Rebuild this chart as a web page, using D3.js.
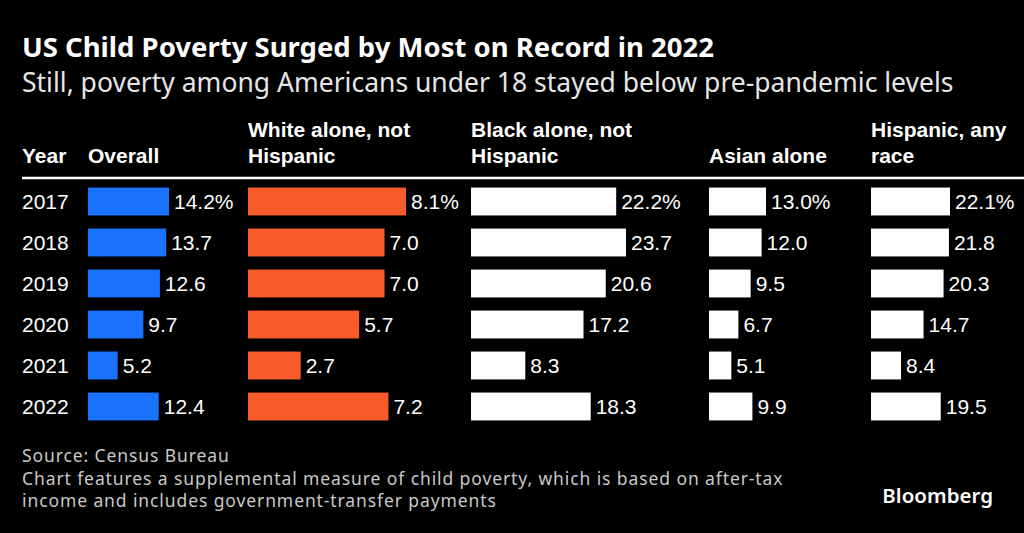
<!DOCTYPE html>
<html>
<head>
<meta charset="utf-8">
<script src="https://cdn.jsdelivr.net/npm/d3@7"></script>
<style>
  body { margin: 0; background: #000; }
  svg { display: block; }
</style>
</head>
<body>
<script>
// child poverty rates, supplemental measure, by race/ethnicity
var years = ["2017", "2018", "2019", "2020", "2021", "2022"]
var overall = [14.2, 13.7, 12.6, 9.7, 5.2, 12.4]
var white = [8.1, 7.0, 7.0, 5.7, 2.7, 7.2]
var black = [22.2, 23.7, 20.6, 17.2, 8.3, 18.3]
var asian = [13.0, 12.0, 9.5, 6.7, 5.1, 9.9]
var hispanic = [22.1, 21.8, 20.3, 14.7, 8.4, 19.5]
var headers = [["Overall"], ["White alone, not", "Hispanic"], ["Black alone, not", "Hispanic"], ["Asian alone"], ["Hispanic, any", "race"]]

var screen = {width: 1024, height: 533}
var sans = "'Noto Sans', 'Open Sans', sans-serif"
var grot = "'Liberation Sans', Arial, sans-serif"

var columns = [
    {values: overall, x: 88, maxW: 81, color: "#1a73ff"},
    {values: white, x: 248, maxW: 158, color: "#fa5b2a"},
    {values: black, x: 471, maxW: 155, color: "#ffffff"},
    {values: asian, x: 709, maxW: 57, color: "#ffffff"},
    {values: hispanic, x: 871, maxW: 79, color: "#ffffff"}
]

var svg = d3.select("body")
    .append("svg")
    .attr("width", screen.width)
    .attr("height", screen.height)

svg.append("rect")
    .attr("width", screen.width)
    .attr("height", screen.height)
    .attr("fill", "#000")

svg.append("text")
    .attr("x", 22).attr("y", 57)
    .attr("fill", "#fff")
    .style("font-family", sans)
    .style("font-weight", 700)
    .style("font-size", "27.5px")
    .text("US Child Poverty Surged by Most on Record in 2022")

svg.append("text")
    .attr("x", 22).attr("y", 92)
    .attr("fill", "#e6e6e6")
    .style("font-family", sans)
    .style("font-size", "26.5px")
    .text("Still, poverty among Americans under 18 stayed below pre-pandemic levels")

// header row
var hdr = svg.append("g")
    .style("font-family", grot)
    .style("font-weight", 700)
    .style("font-size", "21px")
    .attr("fill", "#fff")

hdr.append("text").attr("x", 22).attr("y", 163).text("Year")

columns.forEach(function(c, i) {
    var lines = headers[i]
    lines.forEach(function(l, j) {
        hdr.append("text")
            .attr("x", c.x)
            .attr("y", 163 - (lines.length - 1 - j) * 26)
            .text(l)
    })
})

svg.append("line")
    .attr("x1", 22).attr("x2", screen.width)
    .attr("y1", 178).attr("y2", 178)
    .attr("stroke", "#fff")
    .attr("stroke-width", 2.5)

var yScale = d3.scaleBand()
    .domain(years)
    .range([181, 427])
    .paddingInner(0.32)
    .paddingOuter(0.16)

svg.append("g")
    .selectAll("text")
    .data(years)
    .enter()
    .append("text")
    .attr("x", 22)
    .attr("y", function(d) { return yScale(d) + yScale.bandwidth() / 2 })
    .attr("dy", "0.35em")
    .attr("fill", "#fff")
    .style("font-family", grot)
    .style("font-size", "21px")
    .text(function(d) { return d })

columns.forEach(function(c) {
    var xScale = d3.scaleLinear()
        .domain([0, d3.max(c.values)])
        .range([0, c.maxW])

    var g = svg.append("g").attr("transform", "translate(" + c.x + ",0)")

    g.selectAll("rect")
        .data(c.values)
        .enter()
        .append("rect")
        .attr("x", 0)
        .attr("y", function(d, i) { return yScale(years[i]) })
        .attr("width", function(d) { return xScale(d) })
        .attr("height", yScale.bandwidth())
        .attr("fill", c.color)

    g.selectAll("text")
        .data(c.values)
        .enter()
        .append("text")
        .attr("x", function(d) { return xScale(d) + 5 })
        .attr("y", function(d, i) { return yScale(years[i]) + yScale.bandwidth() / 2 })
        .attr("dy", "0.35em")
        .attr("fill", "#fff")
        .style("font-family", grot)
        .style("font-size", "21px")
        .text(function(d, i) { return d.toFixed(1) + (i == 0 ? "%" : "") })
})

var foot = svg.append("g")
    .attr("fill", "#c8c8c8")
    .style("font-family", sans)
    .style("font-size", "17.5px")
    .style("letter-spacing", "0.9px")

foot.append("text").attr("x", 22).attr("y", 462).text("Source: Census Bureau")
foot.append("text").attr("x", 22).attr("y", 485).text("Chart features a supplemental measure of child poverty, which is based on after-tax")
foot.append("text").attr("x", 22).attr("y", 507).text("income and includes government-transfer payments")

svg.append("text")
    .attr("x", 993).attr("y", 503)
    .attr("text-anchor", "end")
    .attr("fill", "#fff")
    .style("font-family", sans)
    .style("font-weight", 600)
    .style("font-size", "20.5px")
    .text("Bloomberg")
</script>
</body>
</html>
